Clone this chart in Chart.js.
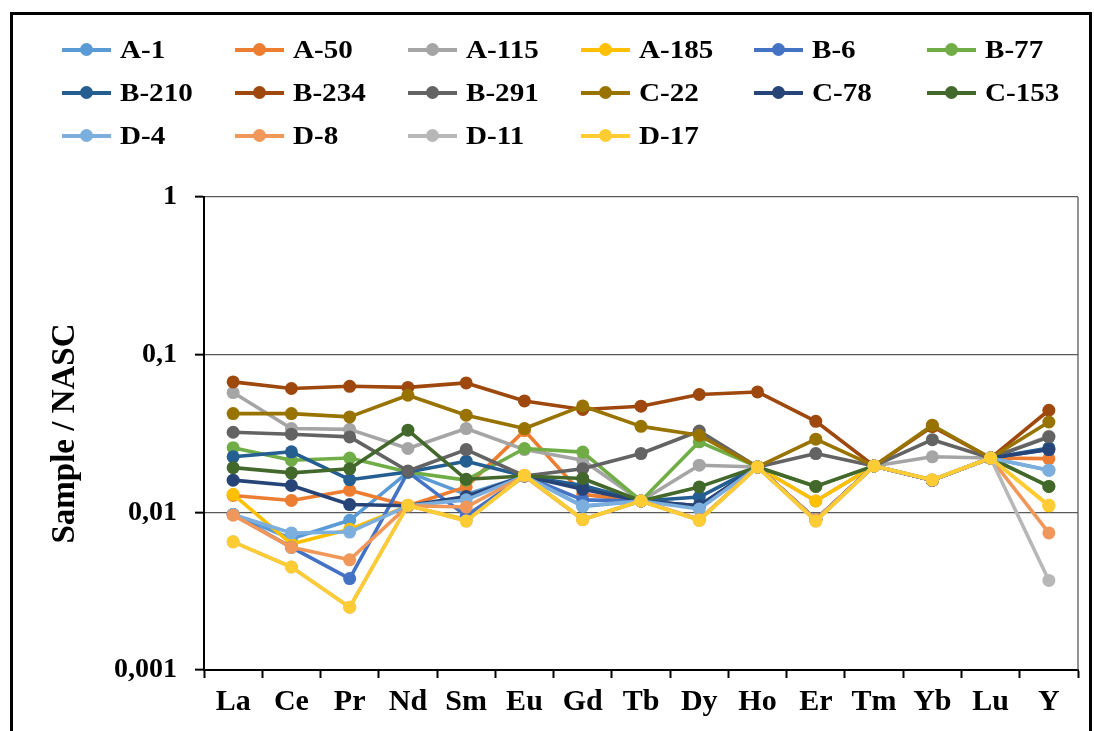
<!DOCTYPE html>
<html>
<head>
<meta charset="utf-8">
<script src="https://cdn.jsdelivr.net/npm/chart.js@4.4.1/dist/chart.umd.min.js"></script>
<style>
    html, body { margin: 0; padding: 0; background: #fff; overflow: hidden; }
    #wrap { position: relative; width: 1094px; height: 731px; }
    #frame {
        position: absolute; left: 10px; top: 12px; width: 1076px; height: 800px;
        border: 3px solid #000; border-bottom: none; pointer-events: none;
    }
    #legend { position: absolute; left: 0; top: 0; }
    .item { position: absolute; height: 30px; }
    .item .ln { position: absolute; left: 0; top: 13px; width: 49px; height: 4px; }
    .item .dot { position: absolute; left: 18px; top: 8px; width: 13px; height: 13px; border-radius: 50%; }
    .item .tx {
        position: absolute; left: 58px; top: 0; line-height: 30px; white-space: nowrap;
        font: bold 26px 'Liberation Serif', 'Times New Roman', serif; color: #000;
        transform: scaleX(1.12); transform-origin: left center;
    }
</style>
</head>
<body>
<div id="wrap">
    <canvas id="reeChart" width="1094" height="731"></canvas>
    <div id="legend"></div>
    <div id="frame"></div>
</div>
<script>
const elements = ['La', 'Ce', 'Pr', 'Nd', 'Sm', 'Eu', 'Gd', 'Tb', 'Dy', 'Ho', 'Er', 'Tm', 'Yb', 'Lu', 'Y'];
const yTicks = [0.001, 0.01, 0.1, 1];
const yTickLabels = ['0,001', '0,01', '0,1', '1'];

// Sample / NASC values, one array per sample
const a1   = [0.0097, 0.0068, 0.0089, 0.018, 0.013, 0.017, 0.0109, 0.0118, 0.0108, 0.0194, 0.009, 0.0197, 0.016, 0.0221, 0.0185];
const a50  = [0.0128, 0.0119, 0.0138, 0.011, 0.0145, 0.033, 0.013, 0.0118, 0.011, 0.0194, 0.009, 0.0197, 0.016, 0.0221, 0.0219];
const a115 = [0.0575, 0.034, 0.0336, 0.0254, 0.034, 0.025, 0.0214, 0.0118, 0.0199, 0.0194, 0.0118, 0.0197, 0.0225, 0.0221, 0.0304];
const a185 = [0.013, 0.0063, 0.0078, 0.011, 0.009, 0.017, 0.009, 0.0118, 0.009, 0.0194, 0.0118, 0.0197, 0.016, 0.0221, 0.011];
const b6   = [0.0097, 0.006, 0.0038, 0.018, 0.0095, 0.017, 0.012, 0.0118, 0.011, 0.0194, 0.009, 0.0197, 0.016, 0.0221, 0.025];
const b77  = [0.0257, 0.0214, 0.0221, 0.018, 0.016, 0.0254, 0.0241, 0.0118, 0.028, 0.0194, 0.0146, 0.0197, 0.016, 0.0221, 0.0146];
const b210 = [0.0225, 0.0242, 0.0161, 0.018, 0.0211, 0.017, 0.0148, 0.0118, 0.0125, 0.0194, 0.009, 0.0197, 0.016, 0.0221, 0.0256];
const b234 = [0.0672, 0.061, 0.063, 0.062, 0.0662, 0.0509, 0.0449, 0.0471, 0.0559, 0.058, 0.0378, 0.0197, 0.035, 0.0221, 0.0444];
const b291 = [0.0322, 0.0313, 0.0301, 0.0183, 0.025, 0.017, 0.0189, 0.0236, 0.0328, 0.0194, 0.0236, 0.0197, 0.0289, 0.0221, 0.030];
const c22  = [0.0423, 0.0423, 0.0403, 0.0553, 0.0413, 0.034, 0.0473, 0.0351, 0.0308, 0.0194, 0.0291, 0.0197, 0.0357, 0.0221, 0.0374];
const c78  = [0.016, 0.0148, 0.0112, 0.011, 0.0126, 0.017, 0.014, 0.0118, 0.011, 0.0194, 0.009, 0.0197, 0.016, 0.0221, 0.025];
const c153 = [0.0192, 0.0178, 0.0189, 0.0332, 0.0162, 0.017, 0.0164, 0.0118, 0.0145, 0.0194, 0.0146, 0.0197, 0.016, 0.0221, 0.0146];
const d4   = [0.0097, 0.0074, 0.0075, 0.011, 0.012, 0.017, 0.011, 0.0118, 0.0105, 0.0194, 0.009, 0.0197, 0.016, 0.0221, 0.0185];
const d8   = [0.0096, 0.006, 0.005, 0.011, 0.0108, 0.017, 0.009, 0.0118, 0.009, 0.0194, 0.009, 0.0197, 0.016, 0.0221, 0.0074];
const d11  = [0.0065, 0.0045, 0.0025, 0.0111, 0.0088, 0.0172, 0.009, 0.0118, 0.0089, 0.0194, 0.0088, 0.0197, 0.0161, 0.0221, 0.0037];
const d17  = [0.0065, 0.0045, 0.0025, 0.0111, 0.0088, 0.0172, 0.009, 0.0118, 0.0089, 0.0194, 0.0088, 0.0197, 0.0161, 0.0221, 0.0111];

const seriesNames = ['A-1', 'A-50', 'A-115', 'A-185', 'B-6', 'B-77', 'B-210', 'B-234', 'B-291', 'C-22', 'C-78', 'C-153', 'D-4', 'D-8', 'D-11', 'D-17'];
const seriesData = [a1, a50, a115, a185, b6, b77, b210, b234, b291, c22, c78, c153, d4, d8, d11, d17];
const seriesColors = [
    '#5b9bd5', '#ed7d31', '#a5a5a5', '#ffc000', '#4472c4', '#70ad47',
    '#255e91', '#9e480e', '#636363', '#997300', '#264478', '#43682b',
    '#7cafdd', '#f1975a', '#b7b7b7', '#ffcd33'
];

const serif = "'Liberation Serif', 'Times New Roman', serif";

// plot frame: top line comes from the grid, right edge drawn here
const plotFrame = {
    id: 'plotFrame',
    beforeDatasetsDraw(chart) {
        const { ctx, chartArea: a } = chart;
        ctx.save();
        ctx.strokeStyle = '#595959';
        ctx.lineWidth = 1.3;
        ctx.beginPath();
        ctx.moveTo(a.right, a.top);
        ctx.lineTo(a.right, a.bottom);
        ctx.stroke();
        ctx.restore();
    }
};

const n = seriesNames.length;
const datasets = seriesNames.map((name, i) => ({
    label: name,
    data: seriesData[i],
    borderColor: seriesColors[i],
    backgroundColor: seriesColors[i],
    pointBackgroundColor: seriesColors[i],
    pointBorderWidth: 0,
    pointRadius: 6.5,
    borderWidth: 3.6,
    borderJoinStyle: 'round',
    borderCapStyle: 'round',
    tension: 0,
    order: n - 1 - i   // later samples sit on top, like the original
}));

const chart = new Chart(document.getElementById('reeChart'), {
    type: 'line',
    data: { labels: elements, datasets: datasets },
    options: {
        responsive: false,
        animation: false,
        events: [],
        layout: { padding: { top: 197, right: 16, left: 0, bottom: 0 } },
        plugins: { legend: { display: false }, tooltip: { enabled: false } },
        scales: {
            x: {
                type: 'category',
                offset: true,
                afterFit: s => { s.height = 61; },
                grid: { offset: true, drawOnChartArea: false, tickLength: 8, tickColor: '#000', tickWidth: 2 },
                border: { color: '#000', width: 2 },
                ticks: { color: '#000', padding: 6, maxRotation: 0, font: { family: serif, size: 30, weight: 'bold' } }
            },
            y: {
                type: 'logarithmic',
                min: 0.001,
                max: 1,
                afterBuildTicks: s => { s.ticks = yTicks.map(v => ({ value: v, major: true })); },
                afterFit: s => { s.width = 204; },
                grid: { color: '#595959', lineWidth: 1.3, tickLength: 9, tickColor: '#000', tickWidth: 2 },
                border: { color: '#000', width: 2 },
                ticks: {
                    color: '#000', padding: 18,
                    font: { family: serif, size: 28, weight: 'bold' },
                    callback: (v, i) => yTickLabels[i]
                },
                title: {
                    display: true,
                    text: 'Sample / NASC',
                    color: '#000',
                    padding: { top: 46, bottom: 0 },
                    font: { family: serif, size: 33, weight: 'bold' }
                }
            }
        }
    },
    plugins: [plotFrame]
});

// legend in 6 columns, 3 rows, built from the chart's own datasets
const legendEl = document.getElementById('legend');
chart.data.datasets.forEach((ds, i) => {
    const col = i % 6, row = Math.floor(i / 6);
    const item = document.createElement('div');
    item.className = 'item';
    item.style.left = (62 + col * 173) + 'px';
    item.style.top = (35 + row * 43) + 'px';
    item.innerHTML = '<div class="ln"></div><div class="dot"></div><div class="tx"></div>';
    item.querySelector('.ln').style.background = ds.borderColor;
    item.querySelector('.dot').style.background = ds.borderColor;
    item.querySelector('.tx').textContent = ds.label;
    legendEl.appendChild(item);
});
</script>
</body>
</html>
